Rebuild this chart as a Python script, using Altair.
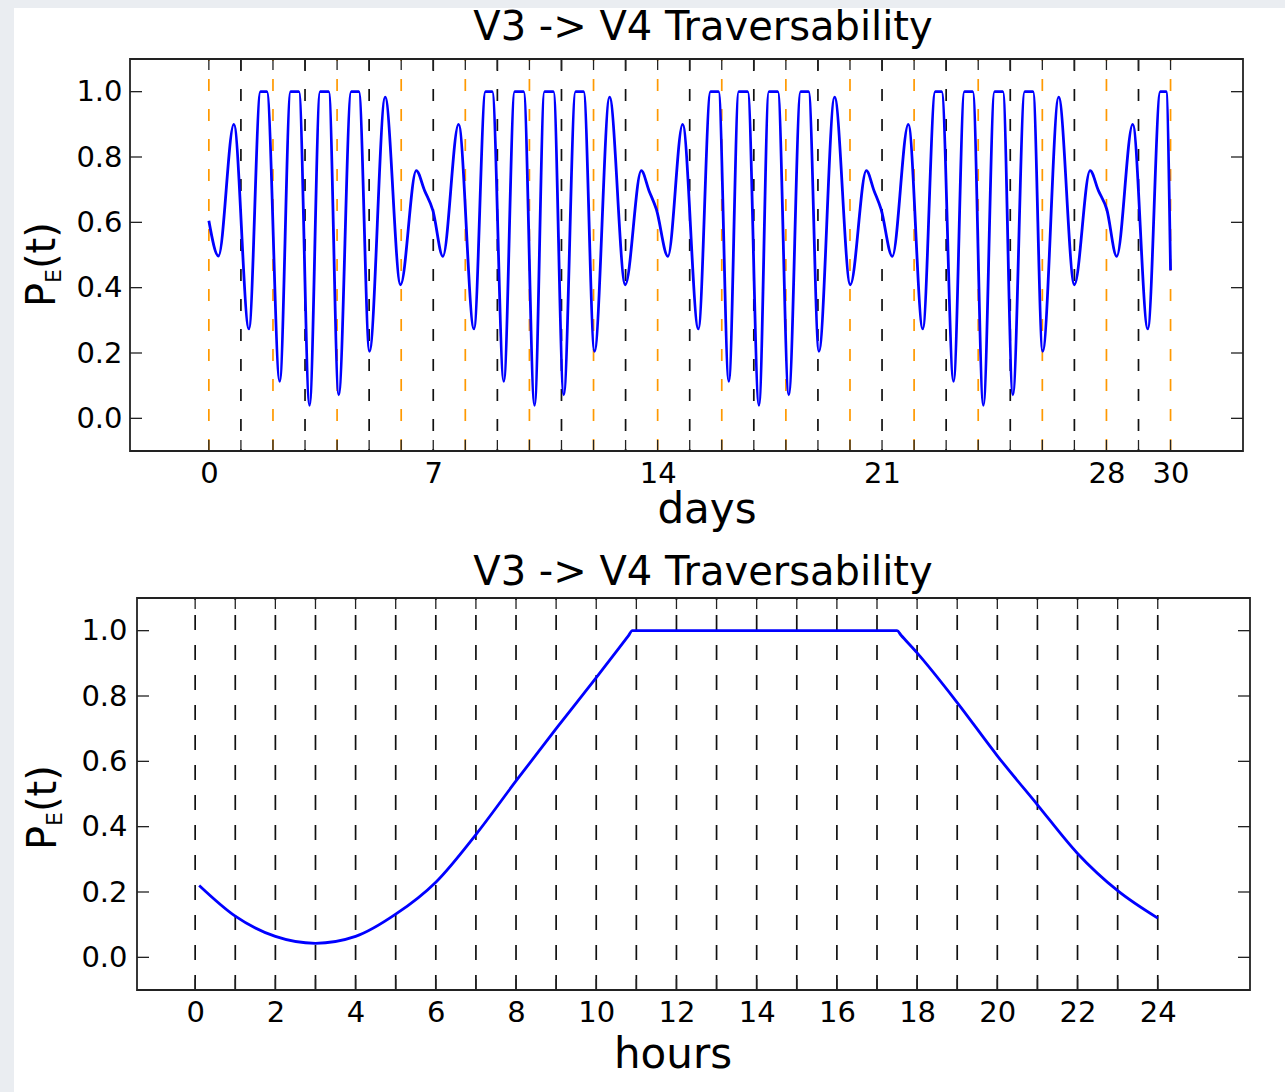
import altair as alt
import pandas as pd

# ---------------- data ----------------
# top panel: P_E(t) over 30 days (extrema / plateau edges)
top_days = [
    0.00, 0.30, 0.78, 1.25, 1.61, 1.81, 2.21, 2.55, 2.81, 3.14, 3.47, 3.74, 4.05, 4.44, 4.68,
    5.01, 5.50, 5.98, 6.47, 6.73, 6.99, 7.30,
    7.79, 8.27, 8.63, 8.84, 9.20, 9.54, 9.82, 10.16, 10.47, 10.75, 11.07, 11.44, 11.69,
    12.03, 12.50, 12.99, 13.49, 13.73, 13.96, 14.32,
    14.78, 15.27, 15.65, 15.90, 16.22, 16.53, 16.81, 17.16, 17.47, 17.75, 18.09, 18.46, 18.71,
    19.03, 19.52, 20.01, 20.51, 20.75, 20.97, 21.32,
    21.82, 22.27, 22.66, 22.86, 23.23, 23.57, 23.83, 24.16, 24.51, 24.77, 25.08, 25.45, 25.71,
    26.01, 26.51, 27.00, 27.49, 27.75, 28.01, 28.32,
    28.82, 29.29, 29.68, 29.86, 30.00,
]
top_pe = [
    0.605, 0.497, 0.900, 0.274, 1.0, 1.0, 0.113, 1.0, 1.0, 0.040, 1.0, 1.0, 0.072, 1.0, 1.0,
    0.205, 0.983, 0.409, 0.758, 0.697, 0.636, 0.496,
    0.900, 0.274, 1.0, 1.0, 0.113, 1.0, 1.0, 0.040, 1.0, 1.0, 0.072, 1.0, 1.0,
    0.205, 0.983, 0.409, 0.758, 0.697, 0.640, 0.496,
    0.900, 0.274, 1.0, 1.0, 0.113, 1.0, 1.0, 0.040, 1.0, 1.0, 0.072, 1.0, 1.0,
    0.205, 0.983, 0.409, 0.758, 0.697, 0.640, 0.496,
    0.900, 0.274, 1.0, 1.0, 0.113, 1.0, 1.0, 0.040, 1.0, 1.0, 0.072, 1.0, 1.0,
    0.205, 0.983, 0.409, 0.758, 0.697, 0.640, 0.496,
    0.900, 0.274, 1.0, 1.0, 0.453,
]

# bottom panel: P_E(t) over one day (hours)
hour_t = [0.1, 1, 2, 3, 4, 5, 6, 7, 8, 9, 10, 10.8, 10.9,
          17.5, 17.6, 18, 19, 20, 21, 22, 23, 24]
hour_pe = [0.22, 0.126, 0.064, 0.043, 0.064, 0.132, 0.23, 0.376, 0.54, 0.70, 0.856, 0.984, 1.0,
           1.0, 0.986, 0.932, 0.78, 0.617, 0.467, 0.318, 0.204, 0.12]

# reference lines / ticks
orange_days = [0, 2, 4, 6, 8, 10, 12, 14, 16, 18, 20, 22, 24, 26, 28, 30]
black_days = [1, 3, 5, 7, 9, 11, 13, 15, 17, 19, 21, 23, 25, 27, 29]
all_days = list(range(0, 31))
day_labels = [0, 7, 14, 21, 28, 30]
all_hours = list(range(0, 25))
hour_labels = [0, 2, 4, 6, 8, 10, 12, 14, 16, 18, 20, 22, 24]
y_ticks = [0.0, 0.2, 0.4, 0.6, 0.8, 1.0]

title_text = "V3 -> V4 Traversability"
FONT = "DejaVu Sans"

# ---------------- helpers ----------------
W1, H1 = 1113, 392
W2, H2 = 1120, 392
ys = alt.Scale(domain=[-0.1, 1.1], nice=False, zero=False)
xs1 = alt.Scale(domain=[-2.46, 32.26], nice=False, zero=False)
xs2 = alt.Scale(domain=[-1.45, 26.3], range=[7, 1120], nice=False, zero=False)


def xaxis(values):
    return alt.Axis(values=values, title=None, grid=False, ticks=False, tickSize=0, domain=False,
                    labelFont=FONT, labelFontSize=29, labelColor="#000", labelPadding=8,
                    labelFlush=False, labelOverlap=False, zindex=2)


def yaxis(pad):
    return alt.Axis(values=y_ticks, format=".1f", title=None, grid=False, ticks=False, tickSize=0,
                    domain=False, labelFont=FONT, labelFontSize=29, labelColor="#000",
                    labelPadding=pad, labelOverlap=False, zindex=2)


def one(df_col="t", val=""):
    return pd.DataFrame({df_col: [val]})


def text(s, x, y, size, angle=0, align="center", baseline="alphabetic"):
    kw = dict(font=FONT, fontSize=size, align=align, baseline=baseline, color="black")
    if angle:
        kw["angle"] = angle
    return alt.Chart(one("t", s)).mark_text(**kw).encode(
        text="t:N", x=alt.value(x), y=alt.value(y))


def bgrect(x, x2, y, y2, color):
    return alt.Chart(one()).mark_rect(color=color).encode(
        x=alt.value(x), x2=alt.value(x2), y=alt.value(y), y2=alt.value(y2))


def ylabel(dx, dy):
    return [
        text("P", dx, dy, 40, angle=270, align="left"),
        text("E", dx + 6, dy - 24, 22, angle=270, align="left"),
        text("(t)", dx, dy - 38, 40, angle=270, align="left"),
    ]


def panel(xscale, W, H, curve_x, curve_y, xlabels, ylabpad, frame_x, ticks_x,
          dash_specs, title_xy, xlab, xlab_xy, ylab_xy, tick_left, interp):
    AX = xaxis(xlabels)
    AY = yaxis(ylabpad)
    layers = []
    for vals, color, dash, from_top in dash_specs:
        y0, y1 = (1.1, -0.1) if from_top else (-0.1, 1.1)
        layers.append(
            alt.Chart(pd.DataFrame({"x": vals})).mark_rule(
                color=color, strokeWidth=1.7, strokeDash=dash
            ).encode(x=alt.X("x:Q", scale=xscale, axis=AX),
                     y=alt.Y(datum=y0, scale=ys, axis=AY), y2=alt.Y2(datum=y1)))
    df = pd.DataFrame({"x": curve_x, "pe": curve_y})
    curve = alt.Chart(df).mark_line(
        color="#0000ff", strokeWidth=2.8, interpolate=interp, clip=True
    ).encode(
        x=alt.X("x:Q", scale=xscale, axis=AX),
        y=alt.Y("pe:Q", scale=ys, axis=AY),
    )
    tdf = pd.DataFrame({"x": ticks_x})
    xt_top = alt.Chart(tdf).mark_rule(color="#222", strokeWidth=1.3).encode(
        x=alt.X("x:Q", scale=xscale, axis=AX), y=alt.value(0), y2=alt.value(11))
    xt_bot = alt.Chart(tdf).mark_rule(color="#222", strokeWidth=1.3).encode(
        x=alt.X("x:Q", scale=xscale, axis=AX), y=alt.value(H - 11), y2=alt.value(H))
    ydf = pd.DataFrame({"v": y_ticks})
    yt_l = alt.Chart(ydf).mark_rule(color="#222", strokeWidth=1.3).encode(
        y=alt.Y("v:Q", scale=ys, axis=AY), x=alt.value(tick_left), x2=alt.value(tick_left + 12))
    yt_r = alt.Chart(ydf).mark_rule(color="#222", strokeWidth=1.3).encode(
        y=alt.Y("v:Q", scale=ys, axis=AY), x=alt.value(W - 12), x2=alt.value(W))
    frame = alt.Chart(one()).mark_rect(fill="transparent", stroke="#222", strokeWidth=1.8).encode(
        x=alt.X(datum=frame_x[0], scale=xscale, axis=AX), x2=alt.X2(datum=frame_x[1]),
        y=alt.Y(datum=-0.1, scale=ys, axis=AY), y2=alt.Y2(datum=1.1))
    layers += [curve, xt_top, xt_bot, yt_l, yt_r, frame]
    layers += [text(title_text, title_xy[0], title_xy[1], 40),
               text(xlab, xlab_xy[0], xlab_xy[1], 42)]
    layers += ylabel(*ylab_xy)
    return layers


# ---------------- top panel ----------------
top_dashes = [
    (orange_days, "#ff9900", [12, 18], False),
    (black_days, "#111111", [12, 18], True),
]
top_layers = [bgrect(-130, 1155, -59, 480, "#eaedf1"), bgrect(-116, 1155, -51, 480, "white")]
top_layers += panel(xs1, W1, H1, top_days, top_pe, day_labels, 8, (-2.46, 32.26), all_days,
                    top_dashes, (573, -19), "days", (577, 464), (-75, 248), 0, "monotone")
top = alt.layer(*top_layers).properties(width=W1, height=H1)

# ---------------- bottom panel ----------------
bot_dashes = [(all_hours, "#111111", [15, 15], False)]
bot_layers = [bgrect(-130, 1155, -59, 494, "#eaedf1"), bgrect(-116, 1155, -59, 494, "white")]
bot_layers += panel(xs2, W2, H2, hour_t, hour_pe, hour_labels, 3, (-1.45, 26.3), all_hours,
                    bot_dashes, (573, -13), "hours", (543, 470), (-74, 252), 7, "monotone")
bottom = alt.layer(*bot_layers).properties(width=W2, height=H2)

chart = alt.vconcat(top, bottom, spacing=0).properties(
    padding=0, background="#eaedf1"
).configure_view(strokeOpacity=0)

chart.save("out.html", embed_options={"renderer": "svg", "actions": False})
